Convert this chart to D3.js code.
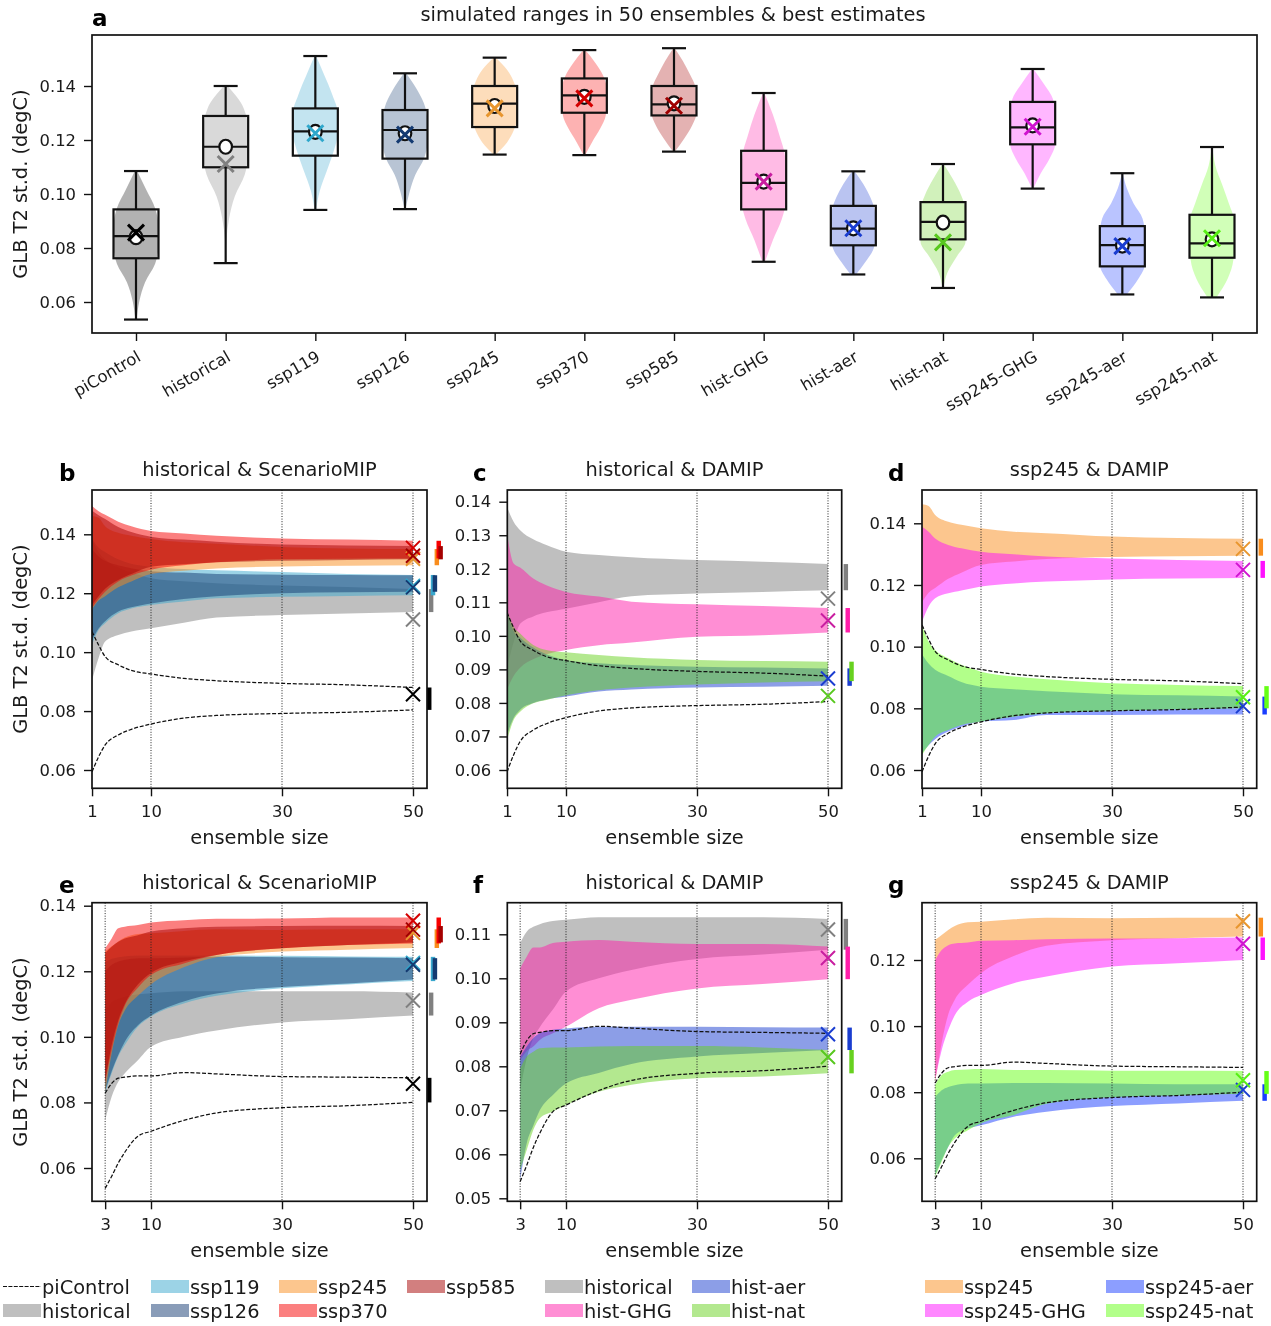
<!DOCTYPE html>
<html><head><meta charset="utf-8">
<script src="https://cdn.jsdelivr.net/npm/d3@7/dist/d3.min.js"></script>
<style>
html,body{margin:0;padding:0;background:#fff}
svg{display:block;filter:blur(0.35px)}
text{font-family:"DejaVu Sans",sans-serif;fill:#1a1a1a}
</style></head><body><svg id="fig" width="1271" height="1326"></svg>
<script>
// ---------- panel a ----------
const categories=["piControl","historical","ssp119","ssp126","ssp245","ssp370","ssp585","hist-GHG","hist-aer","hist-nat","ssp245-GHG","ssp245-aer","ssp245-nat"];
const whiskerLow =[.0535,.0744,.0941,.0944,.1146,.1144,.1157,.0749,.0702,.0652,.102,.0628,.0617];
const boxQ1      =[.0762,.1099,.1142,.1131,.1248,.1301,.1291,.0943,.081,.0832,.1184,.0732,.0764];
const boxMedian  =[.0844,.1175,.1232,.1237,.1335,.1365,.1332,.1041,.0872,.0897,.1247,.0811,.0817];
const boxQ3      =[.0943,.1289,.1317,.1311,.14,.1428,.14,.116,.0956,.097,.1341,.0881,.0923];
const whiskerHigh=[.1085,.14,.1511,.1447,.1505,.1533,.154,.1374,.1084,.1111,.1463,.1077,.1174];
const ensembleMean=[.084,.1175,.123,.1225,.1326,.136,.1336,.1046,.0873,.0894,.1254,.0809,.0832];
const bestEstimate=[.0857,.1111,.1225,.122,.1317,.1354,.1327,.1046,.0873,.0821,.1249,.0807,.0836];
const violinWidths=[
 [.03,.15,.4,.85,1,1,.85,.45,.05],
 [0,.03,.15,.4,.85,1,1,.8,.08],
 [.03,.2,.5,.8,1,1,.75,.4,.03],
 [.02,.2,.45,.85,1,1,.9,.55,.05],
 [.05,.55,.85,1,1,1,.85,.55,.05],
 [.04,.35,.7,.95,1,1,.85,.5,.04],
 [.04,.45,.8,1,1,.95,.7,.4,.03],
 [.06,.4,.8,1,1,.95,.7,.4,.03],
 [.12,.55,.9,1,1,.95,.75,.45,.05],
 [.02,.2,.6,1,1,1,.8,.45,.03],
 [.03,.35,.75,1,1,1,.9,.5,.03],
 [.2,.7,1,1,1,.9,.5,.2,.02],
 [.2,.7,.95,1,1,.75,.45,.15,.02]];
const fillColors=["#000000","#808080","#39a7cd","#143a71","#f98d1d","#f70000","#a50000","#ff1eaa","#1a3dd0","#67d11f","#ff10ff","#1a3dff","#66ff15"];
const markerColors=["#000000","#808080","#2fa8cc","#143a71","#e8962e","#d40000","#a00000","#c81ea0","#1a3dd0","#58c81f","#d014d0","#1a3dd0","#58f015"];

// ---------- panels b, c, d: ensembles from size 1 ----------
const sizesFrom1=[1,2,3,5,7,10,15,20,30,40,50];
const piControlHi1=[.107,.1024,.0985,.0957,.0938,.0926,.0911,.0903,.0894,.0889,.088];
const piControlLo1=[.0594,.0645,.0685,.0719,.0738,.0756,.0776,.0785,.0792,.0796,.0804];
const historicalHi1=[.1385,.134,.1315,.1288,.1271,.1251,.1241,.1234,.1226,.1221,.1214];
const historicalLo1=[.0905,.098,.1036,.1058,.107,.1081,.11,.1118,.1126,.1131,.1136];
const ssp119Hi1=[.1385,.1355,.134,.1315,.13,.129,.1282,.1278,.1272,.1265,.1262];
const ssp119Lo1=[.1025,.1075,.1098,.1132,.1148,.116,.1172,.1183,.1188,.1191,.1193];
const ssp126Hi1=[.135,.1325,.131,.1295,.1285,.1275,.127,.1265,.1263,.1262,.1261];
const ssp126Lo1=[.104,.108,.1105,.1138,.1152,.1165,.118,.119,.12,.1203,.1205];
const ssp245Hi1=[.1462,.1456,.1427,.1405,.1395,.1384,.1373,.1368,.1357,.1352,.135];
const ssp245Lo1=[.1145,.1175,.119,.122,.124,.1265,.1276,.1284,.1291,.1293,.1295];
const ssp370Hi1=[.1496,.1478,.1466,.1443,.1427,.1411,.1403,.1395,.1386,.1382,.1378];
const ssp370Lo1=[.115,.118,.1205,.124,.126,.128,.1295,.1305,.1315,.1317,.1318];
const ssp585Hi1=[.148,.1465,.1452,.1425,.1408,.1392,.1382,.1375,.1365,.1362,.136];
const ssp585Lo1=[.116,.119,.1215,.1245,.1265,.129,.1298,.1305,.131,.1313,.1315];
const histGHGHi1=[.1306,.1216,.1204,.1171,.1151,.1131,.1117,.1102,.1094,.1089,.1083];
const histGHGLo1=[.084,.088,.0905,.093,.0945,.0958,.0972,.098,.0997,.1002,.101];
const histAerHi1=[.1075,.1015,.0995,.0965,.0945,.0928,.0918,.0913,.0908,.0906,.0903];
const histAerLo1=[.0705,.0755,.078,.08,.081,.0819,.0834,.084,.0846,.0848,.0851];
const histNatHi1=[.1077,.1027,.1007,.0973,.0958,.0951,.0943,.0936,.0928,.0925,.0923];
const histNatLo1=[.0689,.0749,.0774,.0799,.0809,.0823,.0838,.0846,.0855,.0861,.0865];
const s245GHGHi1=[.1389,.1373,.1351,.133,.1319,.1308,.13,.1292,.1286,.1281,.1278];
const s245GHGLo1=[.1081,.113,.1157,.1173,.1182,.1195,.1205,.1211,.1218,.1221,.1223];
const s245AerHi1=[.0975,.0945,.0925,.0905,.0885,.087,.0862,.0855,.0846,.0842,.0838];
const s245AerLo1=[.0654,.068,.07,.0725,.074,.0757,.0762,.0778,.0778,.078,.078];
const s245NatHi1=[.107,.1016,.0989,.0962,.0941,.0919,.0903,.0894,.0881,.0876,.0872];
const s245NatLo1=[.0649,.0681,.0708,.073,.0746,.0757,.0773,.0784,.0791,.0797,.08];

// ---------- panels e, f, g: ensembles from size 3 ----------
const sizesFrom3=[3,4,5,6,8,10,15,20,30,40,50];
const piControlHi3=[.0828,.0858,.0874,.0877,.0881,.0881,.0891,.0887,.0879,.0877,.0875];
const piControlLo3=[.0538,.0575,.0615,.0648,.0697,.0712,.0745,.0768,.0784,.079,.08];
const historicalHi3=[.108,.1106,.1117,.1123,.113,.1133,.1139,.1139,.1139,.1139,.1135];
const historicalLo3=[.0746,.0818,.0863,.0889,.0929,.097,.1,.1019,.1044,.1054,.1065];
const ssp119Hi3=[.1228,.1238,.1243,.1246,.1248,.1248,.1248,.1248,.1247,.1245,.1244];
const ssp119Lo3=[.0828,.0889,.094,.0975,.1031,.1062,.1102,.1125,.1148,.116,.117];
const ssp126Hi3=[.12,.122,.123,.1235,.124,.124,.1242,.1244,.1243,.1242,.124];
const ssp126Lo3=[.0835,.0895,.0945,.0985,.1035,.1065,.1108,.1132,.1152,.1163,.1175];
const ssp245Hi3=[.1261,.1276,.1291,.1303,.1314,.1316,.1323,.1328,.1326,.1328,.1328];
const ssp245Lo3=[.083,.095,.1035,.108,.1125,.116,.1212,.1243,.126,.1266,.1271];
const ssp370Hi3=[.127,.13,.1331,.1336,.1341,.1349,.1356,.136,.1361,.1364,.1364];
const ssp370Lo3=[.086,.096,.104,.1095,.115,.1189,.1224,.125,.127,.128,.1285];
const ssp585Hi3=[.1255,.1275,.129,.13,.131,.1321,.1331,.1336,.1338,.1339,.1338];
const ssp585Lo3=[.0865,.0975,.105,.11,.116,.1195,.123,.125,.127,.128,.1288];
const histGHGHi3=[.1023,.1049,.107,.107,.108,.1083,.1087,.1083,.1078,.1078,.1072];
const histGHGLo3=[.0814,.0835,.0845,.086,.0875,.089,.0932,.0951,.0977,.0987,.0998];
const histAerHi3=[.0822,.0845,.0864,.0875,.0883,.0886,.089,.089,.089,.0889,.0888];
const histAerLo3=[.054,.0625,.0665,.07,.0735,.0761,.0785,.0805,.0822,.083,.0837];
const histNatHi3=[.0795,.0822,.0833,.0841,.0843,.0843,.0845,.0846,.0846,.0843,.0837];
const histNatLo3=[.0564,.061,.0655,.0682,.0697,.0712,.0742,.0758,.0773,.0777,.0784];
const s245GHGHi3=[.12,.123,.1245,.125,.1253,.1258,.126,.1263,.1265,.1266,.1268];
const s245GHGLo3=[.0837,.0928,.0988,.1033,.1074,.1094,.113,.115,.118,.119,.12];
const s245AerHi3=[.0786,.0806,.0816,.0821,.0826,.0826,.0828,.0828,.0826,.0824,.0824];
const s245AerLo3=[.0549,.0595,.0635,.067,.069,.07,.0726,.0741,.0758,.0766,.0774];
const s245NatHi3=[.0822,.0852,.0862,.0867,.0869,.087,.0867,.0867,.0865,.0865,.0864];
const s245NatLo3=[.0544,.059,.0635,.066,.0685,.0706,.0731,.0765,.0785,.079,.0795];

const bands1={historical:[historicalHi1,historicalLo1],ssp119:[ssp119Hi1,ssp119Lo1],ssp126:[ssp126Hi1,ssp126Lo1],ssp245:[ssp245Hi1,ssp245Lo1],ssp370:[ssp370Hi1,ssp370Lo1],ssp585:[ssp585Hi1,ssp585Lo1],"hist-GHG":[histGHGHi1,histGHGLo1],"hist-aer":[histAerHi1,histAerLo1],"hist-nat":[histNatHi1,histNatLo1],"ssp245-GHG":[s245GHGHi1,s245GHGLo1],"ssp245-aer":[s245AerHi1,s245AerLo1],"ssp245-nat":[s245NatHi1,s245NatLo1]};
const bands3={historical:[historicalHi3,historicalLo3],ssp119:[ssp119Hi3,ssp119Lo3],ssp126:[ssp126Hi3,ssp126Lo3],ssp245:[ssp245Hi3,ssp245Lo3],ssp370:[ssp370Hi3,ssp370Lo3],ssp585:[ssp585Hi3,ssp585Lo3],"hist-GHG":[histGHGHi3,histGHGLo3],"hist-aer":[histAerHi3,histAerLo3],"hist-nat":[histNatHi3,histNatLo3],"ssp245-GHG":[s245GHGHi3,s245GHGLo3],"ssp245-aer":[s245AerHi3,s245AerLo3],"ssp245-nat":[s245NatHi3,s245NatLo3]};

const groupScenario=["historical","ssp119","ssp126","ssp245","ssp370","ssp585"];
const groupHistDamip=["historical","hist-GHG","hist-aer","hist-nat"];
const groupSspDamip=["ssp245","ssp245-GHG","ssp245-aer","ssp245-nat"];
const sizeTicks1=[1,10,30,50], sizeTicks3=[3,10,30,50];
const yTicksA=[.06,.08,.10,.12,.14];
const yTicksB=[.06,.08,.10,.12,.14];
const yTicksC=[.06,.07,.08,.09,.10,.11,.12,.13,.14];
const yTicksD=[.06,.08,.10,.12,.14];
const yTicksE=[.06,.08,.10,.12,.14];
const yTicksF=[.05,.06,.07,.08,.09,.10,.11];
const yTicksG=[.06,.08,.10,.12];

const legendOne=["piControl","historical"];
const legendTwo=["ssp119","ssp126"], legendThree=["ssp245","ssp370"], legendFour=["ssp585"];
const legendFive=["historical","hist-GHG"], legendSix=["hist-aer","hist-nat"];
const legendSeven=["ssp245","ssp245-GHG"], legendEight=["ssp245-aer","ssp245-nat"];

// ---------- drawing ----------
const svg=d3.select("#fig");
const colorOf=n=>n==="historical"?"#808080":fillColors[categories.indexOf(n)];
const estimateOf=n=>bestEstimate[categories.indexOf(n)];
const markerOf=n=>markerColors[categories.indexOf(n)];
const FS_TICK=16.4, FS_LABEL=19.4, FS_PANEL=23;

function styleAxis(g){
  g.selectAll("text").style("font-size",FS_TICK+"px").style("fill","#1a1a1a");
  g.selectAll("line").attr("stroke","#111").attr("stroke-width",1.4);
  g.select(".domain").remove();
}
function frame(L,T,R,B){
  svg.append("rect").attr("x",L).attr("y",T).attr("width",R-L).attr("height",B-T)
    .attr("fill","none").attr("stroke","#111").attr("stroke-width",1.7);
}
function crossMark(g,cx,cy,r,color,w){
  g.append("path").attr("d",`M${cx-r},${cy-r}L${cx+r},${cy+r}M${cx-r},${cy+r}L${cx+r},${cy-r}`)
   .attr("fill","none").attr("stroke",color).attr("stroke-width",w);
}
function letter(t,x,y){svg.append("text").attr("x",x).attr("y",y).attr("font-weight","bold").attr("font-size",FS_PANEL).style("fill","#000").text(t);}

// panel a
(function(){
  const L=92,R=1257,T=35,B=333;
  const x=d3.scalePoint().domain(categories).range([136,1212]);
  const y=d3.scaleLinear().domain([.06,.14]).range([302,86]);
  const boxW=45, capW=24;
  const g=svg.append("g");
  categories.forEach((c,i)=>{
    const cx=x(c);
    const levels=violinWidths[i].map((w,k)=>({v:whiskerLow[i]+(whiskerHigh[i]-whiskerLow[i])*k/8,w}));
    const area=d3.area().y(d=>y(d.v)).x0(d=>cx-d.w*boxW/2).x1(d=>cx+d.w*boxW/2).curve(d3.curveMonotoneY);
    g.append("path").attr("d",area(levels)).attr("fill",fillColors[i]).attr("fill-opacity",.3);
    const st=(s)=>s.attr("stroke","#111").attr("stroke-width",2.2);
    st(g.append("line").attr("x1",cx).attr("x2",cx).attr("y1",y(whiskerLow[i])).attr("y2",y(boxQ1[i])));
    st(g.append("line").attr("x1",cx).attr("x2",cx).attr("y1",y(boxQ3[i])).attr("y2",y(whiskerHigh[i])));
    [whiskerLow[i],whiskerHigh[i]].forEach(v=>st(g.append("line").attr("x1",cx-capW/2).attr("x2",cx+capW/2).attr("y1",y(v)).attr("y2",y(v))));
    st(g.append("rect").attr("x",cx-boxW/2).attr("width",boxW).attr("y",y(boxQ3[i])).attr("height",y(boxQ1[i])-y(boxQ3[i])).attr("fill","none"));
    st(g.append("line").attr("x1",cx-boxW/2).attr("x2",cx+boxW/2).attr("y1",y(boxMedian[i])).attr("y2",y(boxMedian[i])));
    g.append("ellipse").attr("cx",cx).attr("cy",y(ensembleMean[i])).attr("rx",6.3).attr("ry",7).attr("fill","#fff").attr("stroke","#111").attr("stroke-width",2.2);
    crossMark(g,cx,y(bestEstimate[i]),8,markerColors[i],3);
  });
  const ax=svg.append("g").attr("transform",`translate(${L},0)`).call(d3.axisLeft(y).tickValues(yTicksA).tickSize(8).tickPadding(8).tickFormat(d3.format(".2f")));
  styleAxis(ax);
  const bx=svg.append("g").attr("transform",`translate(0,${B})`).call(d3.axisBottom(x).tickSize(8).tickFormat(""));
  styleAxis(bx);
  bx.selectAll(".tick text").remove();
  categories.forEach(c=>{
    svg.append("text").attr("transform",`translate(${x(c)+6},${360}) rotate(-30)`).attr("text-anchor","end").attr("font-size",FS_TICK).text(c);
  });
  frame(L,T,R,B);
  svg.append("text").attr("x",673).attr("y",21).attr("text-anchor","middle").attr("font-size",FS_LABEL).text("simulated ranges in 50 ensembles & best estimates");
  svg.append("text").attr("transform",`translate(26.5,184) rotate(-90)`).attr("text-anchor","middle").attr("font-size",FS_LABEL).text("GLB T2 st.d. (degC)");
  letter("a",92,26);
})();

function panel(o){
  const {L,R,T,B,x10,x50,yDom,yRng,ticks,sizes,sizeTicks,bands,group,piHi,piLo,title,ltr,lx,yLabel}=o;
  const x=d3.scaleLinear().domain([10,50]).range([x10,x50]);
  const y=d3.scaleLinear().domain(yDom).range(yRng);
  const clipId="clip"+ltr;
  svg.append("clipPath").attr("id",clipId).append("rect").attr("x",L).attr("y",T).attr("width",R-L).attr("height",B-T);
  const g=svg.append("g").attr("clip-path",`url(#${clipId})`);
  group.forEach(name=>{
    const [hi,lo]=bands[name];
    const area=d3.area().x((d,i)=>x(sizes[i])).y0((d,i)=>y(lo[i])).y1((d,i)=>y(hi[i])).curve(d3.curveMonotoneX);
    g.append("path").attr("d",area(sizes)).attr("fill",colorOf(name)).attr("fill-opacity",.5);
  });
  sizeTicks.forEach(t=>{ if(t!==1) g.append("line").attr("x1",x(t)).attr("x2",x(t)).attr("y1",T).attr("y2",B).attr("stroke","#222").attr("stroke-width",1).attr("stroke-dasharray","1,1.6"); });
  const line=d3.line().x((d,i)=>x(sizes[i])).y(d=>y(d)).curve(d3.curveMonotoneX);
  [piHi,piLo].forEach(a=>g.append("path").attr("d",line(a)).attr("fill","none").attr("stroke","#111").attr("stroke-width",1.25).attr("stroke-dasharray","4,1.8"));
  const slotStep=.29, slotW=.68, xEnd=x.invert(R);
  o.sideOrder.forEach(([name,k])=>{
    const pair=name==="piControl"?[piHi,piLo]:bands[name];
    const hi=pair[0][pair[0].length-1], lo=pair[1][pair[1].length-1];
    const x0=x(xEnd+k*slotStep), x1=x(xEnd+k*slotStep+slotW);
    svg.append("rect").attr("x",x0).attr("width",x1-x0).attr("y",y(hi)).attr("height",y(lo)-y(hi))
      .attr("fill",name==="piControl"?"#000":colorOf(name));
  });
  o.sideOrder.forEach(([name])=>{ crossMark(svg,x(50),y(estimateOf(name)),7,markerOf(name),2); });
  const ax=svg.append("g").attr("transform",`translate(${L},0)`).call(d3.axisLeft(y).tickValues(ticks).tickSize(8).tickPadding(8).tickFormat(d3.format(".2f")));
  styleAxis(ax);
  const bx=svg.append("g").attr("transform",`translate(0,${B})`).call(d3.axisBottom(x).tickValues(sizeTicks).tickSize(8).tickPadding(9).tickFormat(d3.format("d")));
  styleAxis(bx);
  frame(L,T,R,B);
  const cx=(L+R)/2;
  svg.append("text").attr("x",cx).attr("y",T-14).attr("text-anchor","middle").attr("font-size",FS_LABEL).text(title);
  svg.append("text").attr("x",cx).attr("y",B+56).attr("text-anchor","middle").attr("font-size",FS_LABEL).text("ensemble size");
  if(yLabel) svg.append("text").attr("transform",`translate(26.5,${(T+B)/2}) rotate(-90)`).attr("text-anchor","middle").attr("font-size",FS_LABEL).text(yLabel);
  letter(ltr,lx,T-9.5);
}
const sideB=[["piControl",0],["historical",1],["ssp119",2],["ssp126",3],["ssp245",4],["ssp370",5],["ssp585",6]];
const sideC=[["historical",1],["hist-GHG",2],["hist-aer",3],["hist-nat",4]];
const sideD=[["ssp245",1],["ssp245-GHG",2],["ssp245-aer",3],["ssp245-nat",4]];
const rowTop={T:490,B:788.3}, rowBot={T:902.7,B:1201.3};
panel({L:92,R:427,...rowTop,x10:151,x50:413,yDom:[.06,.14],yRng:[770,534.3],ticks:yTicksB,sizes:sizesFrom1,sizeTicks:sizeTicks1,bands:bands1,group:groupScenario,piHi:piControlHi1,piLo:piControlLo1,title:"historical & ScenarioMIP",ltr:"b",lx:59,yLabel:"GLB T2 st.d. (degC)",sideOrder:sideB});
panel({L:507.3,R:841.7,...rowTop,x10:566,x50:828,yDom:[.06,.14],yRng:[770,501.7],ticks:yTicksC,sizes:sizesFrom1,sizeTicks:sizeTicks1,bands:bands1,group:groupHistDamip,piHi:piControlHi1,piLo:piControlLo1,title:"historical & DAMIP",ltr:"c",lx:473,sideOrder:sideC});
panel({L:922,R:1256.7,...rowTop,x10:981,x50:1243,yDom:[.06,.14],yRng:[770,523.3],ticks:yTicksD,sizes:sizesFrom1,sizeTicks:sizeTicks1,bands:bands1,group:groupSspDamip,piHi:piControlHi1,piLo:piControlLo1,title:"ssp245 & DAMIP",ltr:"d",lx:888,sideOrder:sideD});
panel({L:92,R:427,...rowBot,x10:151,x50:413,yDom:[.06,.14],yRng:[1168,905.7],ticks:yTicksE,sizes:sizesFrom3,sizeTicks:sizeTicks3,bands:bands3,group:groupScenario,piHi:piControlHi3,piLo:piControlLo3,title:"historical & ScenarioMIP",ltr:"e",lx:59,yLabel:"GLB T2 st.d. (degC)",sideOrder:sideB});
panel({L:507.3,R:841.7,...rowBot,x10:566,x50:828,yDom:[.05,.11],yRng:[1198.3,934.3],ticks:yTicksF,sizes:sizesFrom3,sizeTicks:sizeTicks3,bands:bands3,group:groupHistDamip,piHi:piControlHi3,piLo:piControlLo3,title:"historical & DAMIP",ltr:"f",lx:473,sideOrder:sideC});
panel({L:922,R:1256.7,...rowBot,x10:981,x50:1243,yDom:[.06,.12],yRng:[1158.3,960],ticks:yTicksG,sizes:sizesFrom3,sizeTicks:sizeTicks3,bands:bands3,group:groupSspDamip,piHi:piControlHi3,piLo:piControlLo3,title:"ssp245 & DAMIP",ltr:"g",lx:888,sideOrder:sideD});

// legends
function legendColumn(items,x0){
  items.forEach((name,i)=>{
    const yMid=[1286.5,1310.5][i];
    if(name==="piControl"){
      svg.append("line").attr("x1",x0).attr("x2",x0+38).attr("y1",yMid).attr("y2",yMid).attr("stroke","#111").attr("stroke-width",1.2).attr("stroke-dasharray","4,1.4");
    } else {
      svg.append("rect").attr("x",x0).attr("y",yMid-6.5).attr("width",38).attr("height",13).attr("fill",colorOf(name)).attr("fill-opacity",.5);
    }
    svg.append("text").attr("x",x0+39).attr("y",yMid+7).attr("font-size",19.4).text(name);
  });
}
legendColumn(legendOne,3);
legendColumn(legendTwo,151);
legendColumn(legendThree,279);
legendColumn(legendFour,407);
legendColumn(legendFive,545);
legendColumn(legendSix,692);
legendColumn(legendSeven,925);
legendColumn(legendEight,1106);
</script></body></html>
